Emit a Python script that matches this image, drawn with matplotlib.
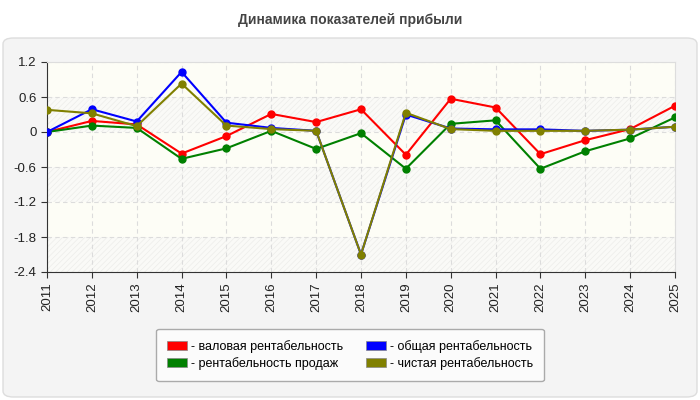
import matplotlib
matplotlib.use('Agg')
import numpy as np
import matplotlib.pyplot as plt
from matplotlib.patches import FancyBboxPatch, Rectangle, Patch

plt.rcParams['font.family'] = ['Liberation Sans', 'DejaVu Sans']

years = list(range(2011, 2026))

gross = [0.0, 0.19, 0.13, -0.37, -0.07, 0.31, 0.17, 0.39, -0.39, 0.57, 0.42, -0.38, -0.14, 0.05, 0.45]
sales = [0.0, 0.11, 0.07, -0.46, -0.28, 0.02, -0.29, -0.02, -0.63, 0.14, 0.20, -0.63, -0.33, -0.11, 0.25]
total = [0.0, 0.39, 0.18, 1.03, 0.16, 0.07, 0.02, -2.10, 0.30, 0.06, 0.045, 0.045, 0.02, 0.04, 0.09]
net = [0.38, 0.32, 0.10, 0.83, 0.11, 0.05, 0.02, -2.10, 0.33, 0.05, 0.02, 0.02, 0.02, 0.04, 0.09]

labels = ['- валовая рентабельность', '- рентабельность продаж',
          '- общая рентабельность', '- чистая рентабельность']
colors = ['#ff0000', '#008000', '#0000ff', '#808000']
yticks = [1.2, 0.6, 0, -0.6, -1.2, -1.8, -2.4]

fig = plt.figure(figsize=(7, 4), dpi=100)
fig.patch.set_facecolor('white')

panel = FancyBboxPatch((3 / 700, 3 / 400), 694 / 700, 359 / 400,
                       boxstyle='round,pad=0,rounding_size=0.015',
                       transform=fig.transFigure, facecolor='#f4f4f4',
                       edgecolor='#dddddd', linewidth=1, zorder=-10)
fig.patches.append(panel)

fig.text(0.5, 1 - 20 / 400, 'Динамика показателей прибыли', ha='center', va='center',
         fontsize=10, fontweight='bold', color='#444444')

ax = fig.add_axes([47 / 700, 1 - 272 / 400, 628 / 700, 210 / 400])
ax.set_facecolor('#fdfdf6')

# alternating hatched bands
plt.rcParams['hatch.linewidth'] = 0.5
for i, lo in enumerate(yticks[1:]):
    if i % 2 == 1:
        ax.add_patch(Rectangle((2011, lo), 14, 0.6, facecolor='#fafaf7', hatch='//////',
                               edgecolor='#ededea', linewidth=0, zorder=0))

series = [gross, sales, total, net]
for vals, col, lab in zip(series, colors, labels):
    ax.plot(years, vals, color=col, linewidth=1.5, marker='o', markersize=5, label=lab, zorder=3)

ax.set_xlim(2011, 2025)
ax.set_ylim(-2.4, 1.2)
ax.set_yticks(yticks)
ax.set_yticklabels(['1.2', '0.6', '0', '-0.6', '-1.2', '-1.8', '-2.4'])
ax.set_xticks(years)
ax.set_xticklabels([str(y) for y in years], rotation=90)
ax.tick_params(labelsize=9.5, colors='#222222', length=4, color='#333333')
ax.grid(True, linestyle=(0, (4, 3)), color='#dcdcdc', linewidth=0.8, zorder=1)
ax.set_axisbelow(True)
for s in ['top', 'right']:
    ax.spines[s].set_color('#dddddd')
for s in ['left', 'bottom']:
    ax.spines[s].set_color('#333333')

phandles = [Patch(facecolor=c, edgecolor='#888888', linewidth=0.5) for c in colors]
leg = fig.legend(phandles, labels, loc='center', bbox_to_anchor=(350 / 700, 1 - 355 / 400),
                 ncol=2, fontsize=9, frameon=True, fancybox=True, handlelength=1.6,
                 handleheight=0.7, handletextpad=0.3, columnspacing=1.8,
                 labelspacing=0.3, borderpad=0.9)
leg.get_frame().set_facecolor('#fbfbfb')
leg.get_frame().set_edgecolor('#aaaaaa')
leg.get_frame().set_alpha(1)

fig.savefig('out.png', dpi=100)
